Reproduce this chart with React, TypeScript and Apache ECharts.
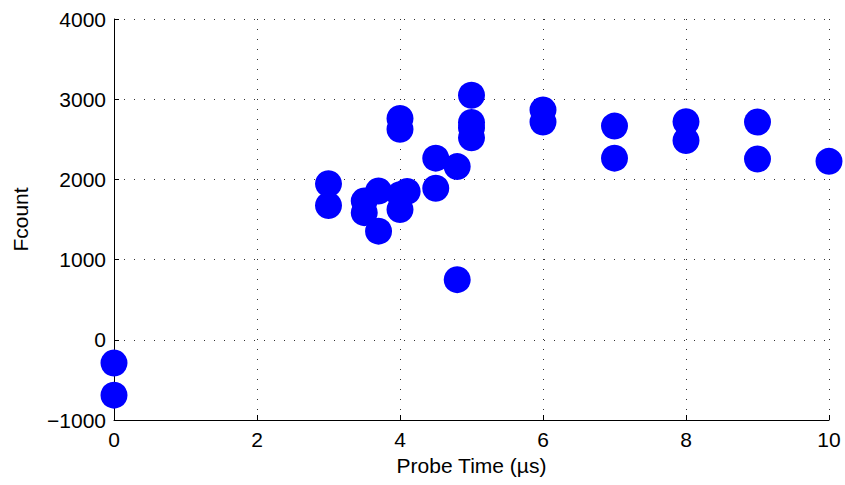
import React, { useEffect, useRef } from "react";
import * as echarts from "echarts";

const probeTime: number[] = [
  0, 0,
  3, 3,
  3.5, 3.5,
  3.7, 3.7,
  4, 4, 4, 4, 4.1,
  4.5, 4.5,
  4.8, 4.8,
  5, 5, 5, 5,
  6, 6,
  7, 7,
  8, 8,
  9, 9,
  10,
];
const fcount: number[] = [
  -290, -690,
  1945, 1675,
  1730, 1585,
  1855, 1355,
  2760, 2625, 1625, 1810, 1850,
  2265, 1890,
  2160, 750,
  3050, 2710, 2640, 2520,
  2865, 2715,
  2665, 2265,
  2720, 2485,
  2715, 2255,
  2225,
];

const xTicks = { min: 0, max: 10, interval: 2 };
const yTicks = { min: -1000, max: 4000, interval: 1000 };

export default function App() {
  const ref = useRef<HTMLDivElement>(null);
  useEffect(() => {
    if (!ref.current) return;
    const chart = echarts.init(ref.current, undefined, { renderer: "svg" });
    const font = "'Liberation Sans', Arial, Helvetica, sans-serif";
    const fs = 21;
    const gridLine = {
      show: true,
      lineStyle: { color: "#333", width: 1, type: [1, 9] as any },
    };
    chart.setOption({
      animation: false,
      backgroundColor: "#fff",
      grid: { left: 114, right: 16, top: 19, bottom: 65, containLabel: false },
      xAxis: {
        type: "value",
        min: xTicks.min,
        max: xTicks.max,
        interval: xTicks.interval,
        name: "Probe Time (\u00b5s)",
        nameLocation: "middle",
        nameGap: 35,
        nameTextStyle: { fontFamily: font, fontSize: fs, color: "#000" },
        axisLine: { show: true, onZero: false, lineStyle: { color: "#000", width: 1 } },
        axisTick: { show: true, inside: true, length: 5, lineStyle: { color: "#000" } },
        axisLabel: { fontFamily: font, fontSize: fs, color: "#000", margin: 9 },
        splitLine: gridLine,
      },
      yAxis: {
        type: "value",
        min: yTicks.min,
        max: yTicks.max,
        interval: yTicks.interval,
        name: "Fcount",
        nameLocation: "middle",
        nameGap: 83,
        nameRotate: 90,
        nameTextStyle: { fontFamily: font, fontSize: fs, color: "#000" },
        axisLine: { show: true, onZero: false, lineStyle: { color: "#000", width: 1 } },
        axisTick: { show: true, inside: true, length: 5, lineStyle: { color: "#000" } },
        axisLabel: {
          fontFamily: font,
          fontSize: fs,
          color: "#000",
          margin: 8,
          formatter: (v: number) => (v < 0 ? "\u2212" + Math.abs(v) : String(v)),
        },
        splitLine: gridLine,
      },
      series: [
        {
          type: "scatter",
          data: probeTime.map((x, i) => [x, fcount[i]]),
          symbol: "circle",
          symbolSize: 27,
          itemStyle: { color: "#0000ff", opacity: 1 },
          emphasis: { disabled: true },
          clip: false,
        },
      ],
    });
    return () => chart.dispose();
  }, []);
  return <div ref={ref} style={{ width: 845, height: 485, position: "absolute", left: 0, top: 0 }} />;
}
